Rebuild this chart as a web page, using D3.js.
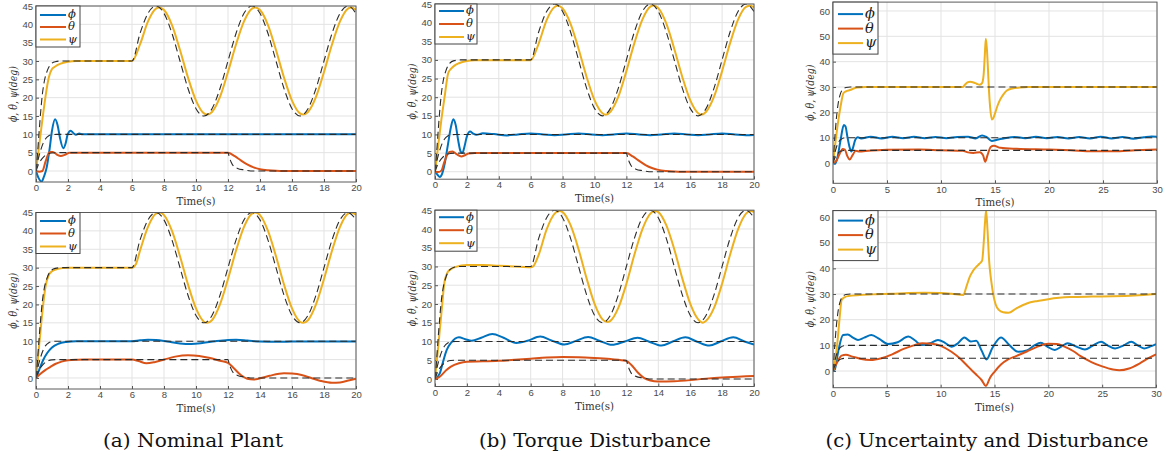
<!DOCTYPE html>
<html><head><meta charset="utf-8">
<script src="https://cdn.jsdelivr.net/npm/d3@7"></script>
<style>html,body{margin:0;padding:0;background:#fff;}svg{display:block;}
.serif{font-family:"DejaVu Serif";}
.sans{font-family:"Liberation Sans",Arial,Helvetica,sans-serif;}
</style>
</head><body>
<svg id="chart" width="1167" height="462"></svg>
<script>
// ---------------- DATA ----------------
const seriesNames = ["ϕ", "θ", "ψ"];
const captions = ["(a) Nominal Plant", "(b) Torque Disturbance", "(c) Uncertainty and Disturbance"];
const xTicksAB = [0,2,4,6,8,10,12,14,16,18,20];
const yTicksAB = [0,5,10,15,20,25,30,35,40,45];
const xTicksC = [0,5,10,15,20,25,30];
const yTicksC = [0,10,20,30,40,50,60];

// reference trajectories (dashed)
const refPsiAB = [[0,0],[0.1,5],[0.2,11],[0.3,16.5],[0.4,21],[0.5,24],[0.7,27.3],[0.9,29],[1.2,29.8],[1.6,30],[6,30],[6.5,37.5],[7,43],[7.5,45],[8,43],[8.5,37.5],[9,30],[9.5,22.5],[10,17],[10.5,15],[11,17],[11.5,22.5],[12,30],[12.5,37.5],[13,43],[13.5,45],[14,43],[14.5,37.5],[15,30],[15.5,22.5],[16,17],[16.5,15],[17,17],[17.5,22.5],[18,30],[18.5,37.5],[19,43],[19.5,45],[20,43]];
const refPhiAB = [[0,0],[0.1,2.5],[0.2,4.3],[0.3,5.8],[0.45,7.6],[0.6,8.8],[0.8,9.6],[1.0,9.9],[1.3,10],[20,10]];
const refThetaAB = [[0,0],[0.1,1.2],[0.2,2.2],[0.3,2.9],[0.45,3.7],[0.6,4.3],[0.8,4.75],[1.0,4.92],[1.3,5],[12,5],[12.08,3.8],[12.2,2.4],[12.35,1.3],[12.6,0.7],[13,0.3],[13.6,0],[20,0]];
const refPsiC = [[0,0],[0.1,6],[0.2,12],[0.3,17],[0.4,21],[0.5,24],[0.7,27.5],[0.9,29],[1.2,29.8],[1.6,30],[30,30]];
const refPhiC = [[0,0],[0.15,3.5],[0.3,6],[0.45,7.7],[0.6,8.8],[0.8,9.5],[1.0,9.85],[1.3,10],[30,10]];
const refThetaC = [[0,0],[0.15,1.8],[0.3,3],[0.45,3.8],[0.6,4.4],[0.8,4.75],[1.0,4.92],[1.3,5],[30,5]];

// (a) nominal plant, top
const aTopPhi = [[0,0],[0.15,-1.8],[0.35,-2.9],[0.5,-1.5],[0.67,1],[0.85,6],[1.0,11],[1.19,14.1],[1.35,12.5],[1.5,9],[1.71,6.2],[1.85,7.5],[1.98,10],[2.17,11],[2.35,10.3],[2.5,9.9],[2.7,10.25],[2.9,10],[3.5,10],[20,10]];
const aTopTheta = [[0,0],[0.2,-0.2],[0.4,0],[0.6,2.6],[0.85,5.2],[1.05,5.2],[1.3,4.5],[1.55,4.1],[1.8,4.4],[2.1,5.0],[2.5,5.0],[12,5],[12.4,4.1],[12.8,2.9],[13.2,1.8],[13.6,1.0],[14,0.5],[14.5,0.2],[15,0.05],[15.5,0],[20,0]];
const aTopPsi = [[0,0],[0.2,7],[0.4,14],[0.6,20.5],[0.8,25.5],[1.0,27.8],[1.2,28.5],[1.5,29.2],[2,29.8],[2.5,30],[6,30],[6.5,34.5],[7,40.8],[7.5,44.3],[7.7,44.6],[8,43.9],[8.5,39.8],[9,33],[9.5,25.5],[10,19.2],[10.5,15.7],[10.7,15.4],[11,16.1],[11.5,20.2],[12,27],[12.5,34.5],[13,40.8],[13.5,44.3],[13.7,44.6],[14,43.9],[14.5,39.8],[15,33],[15.5,25.5],[16,19.2],[16.5,15.7],[16.7,15.4],[17,16.1],[17.5,20.2],[18,27],[18.5,34.5],[19,40.8],[19.5,44.3],[19.7,44.6],[20,43.9]];

// (a) nominal plant, bottom
const aBotPhi = [[0,0],[0.2,2.2],[0.45,4.9],[0.7,6.8],[1.0,8.3],[1.4,9.3],[1.9,9.8],[2.5,10],[6,10],[6.5,10.25],[7,10.4],[7.5,10.3],[8.2,9.9],[9,9.4],[9.7,9.25],[10.4,9.5],[11.2,10],[12,10.35],[12.5,10.4],[13.2,10.2],[14,9.9],[15,9.85],[16,9.9],[17,9.95],[18,9.9],[19,9.95],[20,9.95]];
const aBotTheta = [[0,0],[0.3,1.2],[0.6,2.2],[0.9,3.0],[1.2,3.8],[1.6,4.45],[2,4.8],[2.6,4.95],[3,5],[6,5],[6.4,4.6],[6.9,4.0],[7.4,4.3],[8,5.0],[8.7,5.8],[9.5,6.2],[10.2,6.0],[10.8,5.5],[11.5,4.7],[12,4.1],[12.4,2.5],[12.8,0.8],[13.2,-0.2],[13.6,-0.4],[14,-0.1],[14.6,0.6],[15.5,1.3],[16,1.2],[16.6,0.8],[17.2,0],[17.8,-0.8],[18.5,-1.3],[19,-1.2],[19.6,-0.6],[20,-0.2]];
const aBotPsi = [[0,0],[0.2,9],[0.4,18],[0.6,25],[0.8,28],[1.0,29],[1.3,29.6],[2,30],[6,30],[6.25,31],[6.5,34.6],[7,41.1],[7.5,44.7],[7.75,45],[8,44.3],[8.5,40],[9,33.1],[9.5,25.4],[10,18.9],[10.5,15.3],[10.7,15],[11,15.7],[11.5,20],[12,26.9],[12.5,34.6],[13,41.1],[13.5,44.7],[13.7,45],[14,44.3],[14.5,40],[15,33.1],[15.5,25.4],[16,18.9],[16.5,15.3],[16.7,15],[17,15.7],[17.5,20],[18,26.9],[18.5,34.6],[19,41.1],[19.5,44.7],[19.7,45],[20,44.3]];

// (b) torque disturbance, top
const bTopPhi = [[0,0],[0.1,-0.5],[0.3,-1.4],[0.45,-0.5],[0.6,2],[0.8,7],[1.0,12],[1.15,14.1],[1.3,12.5],[1.45,8.5],[1.6,5.5],[1.72,5.0],[1.85,6.8],[2.0,9.5],[2.2,10.8],[2.4,10.2],[2.6,9.9],[3,10.3],[3.7,10.1],[4.5,9.75],[5.2,10],[6,10.25],[6.8,10],[7.5,9.8],[8.2,10],[9,10.25],[9.8,10],[10.5,9.8],[11.2,10],[12,10.25],[12.8,10],[13.5,9.8],[14.2,10],[15,10.25],[15.8,10],[16.5,9.8],[17.2,10],[18,10.25],[18.8,10],[19.5,9.8],[20,9.85]];
const bTopTheta = [[0,0],[0.2,-0.1],[0.4,0.3],[0.6,2.8],[0.9,5.3],[1.1,5.4],[1.35,4.7],[1.65,4.1],[1.9,4.5],[2.1,4.9],[2.5,5],[12,5],[12.4,4.1],[12.8,2.9],[13.2,1.8],[13.6,1],[14,0.5],[14.5,0.2],[15,0.05],[15.5,0],[20,0]];
const bTopPsi = [[0,0],[0.2,7],[0.4,14],[0.6,20],[0.83,26.5],[1.0,27.6],[1.2,28.4],[1.5,29.1],[2,29.7],[2.5,29.9],[6,29.9],[6.5,34.4],[7,40.7],[7.5,44.2],[7.7,44.5],[8,43.8],[8.5,39.7],[9,33],[9.5,25.5],[10,19.2],[10.5,15.7],[10.7,15.3],[11,16.1],[11.5,20.2],[12,27],[12.5,34.5],[13,40.8],[13.5,44.3],[13.7,44.6],[14,43.9],[14.5,39.8],[15,33],[15.5,25.5],[16,19.2],[16.5,15.7],[16.7,15.3],[17,16.1],[17.5,20.2],[18,27],[18.5,34.5],[19,40.8],[19.5,44.2],[19.75,44.5],[20,44.1]];

// (b) torque disturbance, bottom
const bBotPhi = [[0,0],[0.3,1.5],[0.5,4.5],[0.73,7.7],[1.0,9.6],[1.5,11.1],[1.9,10.6],[2.3,10.2],[2.9,11.0],[3.6,12.0],[4.3,11],[5.1,9.6],[5.8,10.2],[6.6,11.3],[7.3,10.3],[8.1,9.2],[8.8,10.1],[9.6,11.2],[10.3,10.2],[11.1,9.1],[11.9,10],[12.7,11.0],[13.4,10],[14.2,8.9],[14.9,10],[15.7,11.1],[16.4,10],[17.2,8.9],[17.9,10],[18.7,11.1],[19.4,10],[20,9.2]];
const bBotTheta = [[0,0],[0.3,0.6],[0.7,2.3],[1.0,3.3],[1.5,4.2],[2,4.6],[3,4.7],[4,4.85],[5,5.1],[6,5.4],[7,5.7],[8,5.85],[9,5.8],[10,5.6],[11,5.3],[12,4.8],[12.3,3.8],[12.7,1.8],[13.1,0.3],[13.5,-0.4],[14,-0.7],[15,-0.6],[16,-0.3],[17,0.1],[18,0.4],[19,0.6],[20,0.8]];
const bBotPsi = [[0,0],[0.2,8.5],[0.4,17.5],[0.6,26],[0.8,28.5],[1.0,29.3],[1.3,29.9],[2,30.4],[3,30.4],[4,30.2],[5,30],[6,29.8],[6.15,30],[6.5,33.1],[7,39.9],[7.5,44.1],[7.8,44.8],[8,44.5],[8.5,41],[9,34.6],[9.5,26.9],[10,20.1],[10.5,15.9],[10.8,15.2],[11,15.5],[11.5,19],[12,25.4],[12.5,33.1],[13,39.9],[13.5,44.1],[13.8,44.8],[14,44.5],[14.5,41],[15,34.6],[15.5,26.9],[16,20.1],[16.5,15.9],[16.8,15],[17,15.5],[17.5,19],[18,25.4],[18.5,33.1],[19,39.9],[19.5,44.1],[19.8,44.8],[20,44.5]];

// (c) uncertainty and disturbance, top
const cTopPhi = [[0,0],[0.2,-0.3],[0.4,2],[0.7,9],[1.0,15],[1.15,14.5],[1.35,10],[1.55,6],[1.7,4.5],[1.85,6],[2.05,9],[2.3,10.2],[2.6,9.7],[3.5,10.4],[4.5,9.7],[5.5,10.4],[6.5,9.8],[7.5,10.4],[8.5,9.8],[9.5,10.3],[10.5,9.8],[11.5,10.3],[12.5,10.4],[13.2,9.7],[13.8,10.9],[14.2,10.3],[14.7,8.7],[15.2,9.2],[15.8,9.7],[16.8,10.3],[17.8,9.8],[18.8,10.4],[19.8,9.8],[20.8,10.3],[21.8,9.7],[22.8,10.3],[23.8,9.7],[24.8,10.4],[25.8,9.7],[26.8,10.3],[27.8,9.6],[28.8,10.2],[29.5,10.5],[30,10.4]];
const cTopTheta = [[0,0],[0.3,0.8],[0.6,3.5],[0.9,5.5],[1.1,5.3],[1.3,3],[1.55,1.4],[1.8,3],[2.1,4.8],[2.5,4.5],[3,4.7],[5,5.2],[8,5.3],[10,5],[12,4.8],[12.5,4.2],[13,4],[13.6,4.3],[13.9,3],[14.1,0.5],[14.3,3],[14.6,6.3],[14.9,6.8],[15.5,6],[17,5.6],[20,5.3],[22,5],[24,4.6],[26,4.6],[28,5],[30,5.3]];
const cTopPsi = [[0,0],[0.25,9],[0.5,17],[0.75,23.5],[0.96,27.5],[1.2,28.3],[1.57,28.8],[2.2,29.8],[3,30],[12,30],[12.2,30.8],[12.45,31.8],[12.7,32.1],[13,31.8],[13.3,31.3],[13.6,30.9],[13.8,31.5],[13.95,35],[14.05,42],[14.15,49],[14.25,45],[14.35,37],[14.45,28],[14.55,22],[14.7,17.2],[14.85,17.8],[15.0,19.6],[15.25,22.8],[15.5,25.2],[15.8,27.2],[16.1,28.6],[16.6,29.4],[17.3,29.8],[18,30],[30,30]];

// (c) uncertainty and disturbance, bottom
const cBotPhi = [[0,0],[0.15,0.4],[0.5,8],[0.93,14],[1.38,14.2],[1.85,13],[2.32,12.1],[2.9,13],[3.56,14],[4.3,12.5],[5.1,10.5],[6.0,11.2],[7.0,13.4],[7.6,12],[8.2,10.1],[9.0,10.8],[9.75,12.1],[10.4,11],[11.0,9.5],[11.6,10.8],[12.2,13.1],[12.8,11.5],[13.3,11.8],[13.8,8],[14.25,4.5],[14.8,9],[15.6,13.1],[16.4,10],[17.2,7.5],[18,8],[18.7,10],[19.3,11],[19.9,9.5],[20.6,8.2],[21.2,9.5],[21.8,10.8],[22.6,9.5],[23.4,8.4],[24.1,9.8],[24.9,11.4],[25.5,10],[26.2,8.8],[27,10],[27.7,11.4],[28.3,10],[28.9,8.8],[29.5,9.6],[30,10.5]];
const cBotTheta = [[0,0],[0.4,3.5],[0.8,6],[1.2,6.3],[1.8,5.6],[2.5,4.8],[3.5,4.3],[4.5,5],[5.5,6.5],[6.5,8.5],[7.5,10],[8.3,10.8],[9.2,10.6],[10,9.8],[11,7.5],[11.9,4.5],[12.6,1.5],[13.2,-1],[13.8,-3.5],[14.2,-5.8],[14.6,-2.5],[15.0,-0.3],[15.6,2.5],[16.3,4.6],[17,5.8],[18,7.6],[19,9.5],[20,10.6],[20.8,10.5],[21.5,9.5],[22.3,7.8],[23,5.8],[24,3.5],[25,1.8],[26,0.6],[26.6,0.3],[27.5,1],[28.5,3],[29.3,5],[30,6.5]];
const cBotPsi = [[0,0],[0.2,4],[0.4,10.8],[0.6,20],[0.8,27.7],[1.1,28.8],[1.42,29.2],[2.5,29.6],[4,29.9],[5.5,30.1],[7,30.4],[8.5,30.5],[10,30.4],[11,30.1],[12.1,29.6],[12.4,33],[12.7,36.7],[13,39],[13.3,40.6],[13.6,41.8],[13.85,43],[14.0,50],[14.12,58],[14.22,62.5],[14.35,55],[14.5,43],[14.7,35],[14.9,29.5],[15.1,26],[15.4,23.8],[15.8,22.9],[16.3,22.7],[17,24.3],[18,26.3],[19,27.3],[20,28],[21,28.5],[22,28.8],[24,29],[26,29.1],[28,29.4],[30,30]];

// ---------------- LAYOUT / STYLE ----------------
const colors = ["#0072BD", "#D95319", "#EDB120"];

const panels = [
  {x0:36, x1:356, y0:6, y1:182, xDom:[0,20], yDom:[-3,45], xt:xTicksAB, yt:yTicksAB,
   act:[aTopPhi,aTopTheta,aTopPsi], ref:[refPhiAB,refThetaAB,refPsiAB],
   leg:{w:44, h:41, rows:[9,21,33.5], l0:4, l1:30, tx:32, fs:11.5}},
  {x0:36, x1:356, y0:212.5, y1:389, xDom:[0,20], yDom:[-3,45], xt:xTicksAB, yt:yTicksAB,
   act:[aBotPhi,aBotTheta,aBotPsi], ref:[refPhiAB,refThetaAB,refPsiAB],
   leg:{w:44, h:41, rows:[8.5,21,34], l0:4, l1:30, tx:32, fs:11.5}},
  {x0:435, x1:754, y0:4, y1:179.2, xDom:[0,20], yDom:[-2,45], xt:xTicksAB, yt:yTicksAB,
   act:[bTopPhi,bTopTheta,bTopPsi], ref:[refPhiAB,refThetaAB,refPsiAB],
   leg:{w:42, h:40, rows:[7,20,33], l0:4, l1:29, tx:31, fs:11.5}},
  {x0:435, x1:754, y0:210.2, y1:386.5, xDom:[0,20], yDom:[-2,45], xt:xTicksAB, yt:yTicksAB,
   act:[bBotPhi,bBotTheta,bBotPsi], ref:[refPhiAB,refThetaAB,refPsiAB],
   leg:{w:42, h:41, rows:[7,20,33], l0:4, l1:29, tx:31, fs:11.5}},
  {x0:833, x1:1157, y0:2.1, y1:183.3, xDom:[0,30], yDom:[-8,63.5], xt:xTicksC, yt:yTicksC,
   act:[cTopPhi,cTopTheta,cTopPsi], ref:[refPhiC,refThetaC,refPsiC],
   leg:{w:45, h:52, rows:[12,26.5,41], l0:5, l1:30, tx:32, fs:14.5}},
  {x0:833, x1:1156, y0:210.6, y1:387.7, xDom:[0,30], yDom:[-6.5,62.5], xt:xTicksC, yt:yTicksC,
   act:[cBotPhi,cBotTheta,cBotPsi], ref:[refPhiC,refThetaC,refPsiC],
   leg:{w:45, h:50, rows:[10,24.5,39], l0:5, l1:30, tx:32, fs:14.5}}
];

const svg = d3.select("#chart");
const defs = svg.append("defs");

panels.forEach((p, i) => {
  const x = d3.scaleLinear().domain(p.xDom).range([p.x0, p.x1]);
  const y = d3.scaleLinear().domain(p.yDom).range([p.y1, p.y0]);
  const g = svg.append("g");
  const W = p.x1 - p.x0, H = p.y1 - p.y0;

  g.append("g").selectAll("line").data(p.xt).join("line")
    .attr("x1", d => x(d)).attr("x2", d => x(d)).attr("y1", p.y0).attr("y2", p.y1)
    .attr("stroke", "#e3e3e3").attr("stroke-width", 1);
  g.append("g").selectAll("line").data(p.yt).join("line")
    .attr("x1", p.x0).attr("x2", p.x1).attr("y1", d => y(d)).attr("y2", d => y(d))
    .attr("stroke", "#e3e3e3").attr("stroke-width", 1);

  const ax = g.append("g").attr("transform", `translate(0,${p.y1})`)
    .call(d3.axisBottom(x).tickValues(p.xt).tickSizeInner(-3).tickSizeOuter(0).tickPadding(2.5));
  const ay = g.append("g").attr("transform", `translate(${p.x0},0)`)
    .call(d3.axisLeft(y).tickValues(p.yt).tickSizeInner(-3).tickSizeOuter(0).tickPadding(3));
  [ax, ay].forEach(a => {
    a.attr("font-family", null).attr("font-size", null);
    a.select(".domain").remove();
    a.selectAll(".tick line").attr("stroke", "#555");
    a.selectAll("text").attr("class", "sans").style("font-size", "9.5px").attr("fill", "#4a4a4a");
  });

  const cid = "clip" + i;
  defs.append("clipPath").attr("id", cid).append("rect")
    .attr("x", p.x0).attr("y", p.y0).attr("width", W).attr("height", H);
  const plot = g.append("g").attr("clip-path", `url(#${cid})`);

  const line = d3.line().x(d => x(d[0])).y(d => y(d[1])).curve(d3.curveMonotoneX);

  p.act.forEach((s, k) => {
    plot.append("path").datum(s).attr("d", line).attr("fill", "none")
      .attr("stroke", colors[k]).attr("stroke-width", 2).attr("stroke-linejoin", "round");
  });
  p.ref.forEach(s => {
    plot.append("path").datum(s).attr("d", line).attr("fill", "none")
      .attr("stroke", "#2b2b2b").attr("stroke-width", 1.1).attr("stroke-dasharray", "7,4");
  });

  g.append("rect").attr("x", p.x0).attr("y", p.y0).attr("width", W).attr("height", H)
    .attr("fill", "none").attr("stroke", "#5a5a5a").attr("stroke-width", 1);

  g.append("text").attr("class", "serif").attr("x", (p.x0 + p.x1) / 2).attr("y", p.y1 + 23)
    .attr("text-anchor", "middle").style("font-size", "11.5px")
    .attr("textLength", 39).attr("lengthAdjust", "spacingAndGlyphs")
    .attr("fill", "#333").text("Time(s)");
  g.append("text").attr("class", "serif")
    .attr("transform", `translate(${p.x0 - 19},${(p.y0 + p.y1) / 2}) rotate(-90)`)
    .attr("text-anchor", "middle").style("font-style", "italic")
    .style("font-size", "11.5px").attr("textLength", 56).attr("lengthAdjust", "spacingAndGlyphs")
    .attr("fill", "#333").text("ϕ, θ, ψ(deg)");

  const L = p.leg;
  const lg = g.append("g").attr("transform", `translate(${p.x0},${p.y0})`);
  lg.append("rect").attr("x", 0).attr("y", 0).attr("width", L.w).attr("height", L.h)
    .attr("fill", "#fff").attr("stroke", "#444").attr("stroke-width", 1);
  seriesNames.forEach((nm, k) => {
    lg.append("line").attr("x1", L.l0).attr("x2", L.l1).attr("y1", L.rows[k]).attr("y2", L.rows[k])
      .attr("stroke", colors[k]).attr("stroke-width", 2);
    lg.append("text").attr("class", "serif").attr("x", L.tx).attr("y", L.rows[k]).attr("dy", "0.3em")
      .style("font-style", "italic").style("font-size", L.fs + "px")
      .attr("fill", "#222").text(nm);
  });
});

const capX = [193, 595, 987];
const capW = [180, 232, 323];
captions.forEach((c, i) => {
  svg.append("text").attr("class", "serif").attr("x", capX[i]).attr("y", 447).attr("text-anchor", "middle")
    .style("font-size", "19px").attr("fill", "#111")
    .attr("textLength", capW[i]).attr("lengthAdjust", "spacingAndGlyphs").text(c);
});
</script>
</body></html>
